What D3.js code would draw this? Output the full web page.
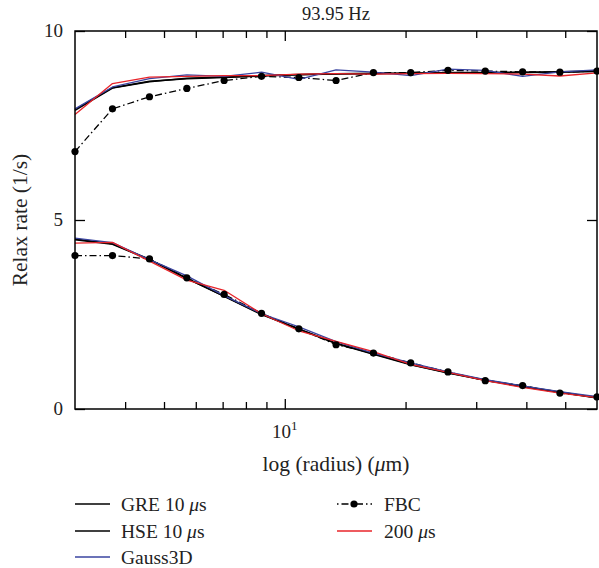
<!DOCTYPE html>
<html>
<head>
<meta charset="utf-8">
<script src="https://cdn.jsdelivr.net/npm/d3@7"></script>
<style>
  html, body { margin: 0; padding: 0; background: #fff; }
  svg, svg text { font-family: "Liberation Serif", "DejaVu Serif", serif; }
</style>
</head>
<body>
<svg id="chart" width="599" height="568"></svg>
<script>
// ---------- data ----------
const radius = [3.0, 3.72, 4.60, 5.70, 7.06, 8.75, 10.84, 13.42, 16.63, 20.60, 25.51, 31.60, 39.15, 48.49, 60.0];

const greUpper   = [7.92, 8.50, 8.67, 8.74, 8.77, 8.81, 8.84, 8.86, 8.87, 8.88, 8.89, 8.89, 8.90, 8.91, 8.93];
const hseUpper   = [7.90, 8.49, 8.66, 8.75, 8.78, 8.82, 8.85, 8.87, 8.88, 8.88, 8.90, 8.90, 8.91, 8.92, 8.94];
const gaussUpper = [7.94, 8.52, 8.74, 8.84, 8.80, 8.91, 8.72, 8.97, 8.91, 8.82, 8.99, 8.96, 8.80, 8.92, 8.97];
const fbcUpper   = [6.81, 7.94, 8.26, 8.48, 8.69, 8.80, 8.77, 8.69, 8.90, 8.90, 8.96, 8.94, 8.92, 8.91, 8.94];
const us200Upper = [7.79, 8.61, 8.78, 8.80, 8.82, 8.82, 8.86, 8.87, 8.86, 8.87, 8.88, 8.87, 8.86, 8.81, 8.89];

const greLower   = [4.50, 4.37, 3.96, 3.46, 2.98, 2.50, 2.12, 1.74, 1.46, 1.18, 0.96, 0.77, 0.60, 0.45, 0.30];
const hseLower   = [4.48, 4.36, 3.95, 3.45, 2.99, 2.51, 2.11, 1.73, 1.45, 1.17, 0.95, 0.76, 0.59, 0.44, 0.29];
const gaussLower = [4.52, 4.40, 3.95, 3.52, 3.00, 2.52, 2.17, 1.78, 1.48, 1.22, 0.98, 0.78, 0.61, 0.46, 0.33];
const fbcLower   = [4.06, 4.06, 3.97, 3.47, 3.03, 2.53, 2.12, 1.70, 1.48, 1.22, 0.98, 0.75, 0.62, 0.42, 0.32];
const us200Lower = [4.39, 4.41, 3.91, 3.41, 3.14, 2.52, 2.07, 1.79, 1.52, 1.18, 0.97, 0.75, 0.57, 0.42, 0.30];

const yTicks = [0, 5, 10];
const xMinorTicks = [4, 5, 6, 7, 8, 9, 20, 30, 40, 50];
const xMajorTicks = [10];

const titleText = "93.95 Hz";
const legendLeft = ["GRE 10 μs", "HSE 10 μs", "Gauss3D"];
const legendRight = ["FBC", "200 μs"];

// ---------- layout ----------
const FONT = "'Liberation Serif', 'DejaVu Serif', serif";
const svg = d3.select("#chart").attr("font-family", FONT);
const L = 75, R = 597, T = 31, B = 409;
const x = d3.scaleLog().domain([3, 60]).range([L, R]);
const y = d3.scaleLinear().domain([0, 10]).range([B, T]);

const BLACK = "#000", BLUE = "#3a44a0", RED = "#e8242a";
const DASH = "7,3,1.5,3";
const TXT = "#222";

// title
svg.append("text").attr("x", (L + R) / 2).attr("y", 20).attr("text-anchor", "middle")
  .attr("font-family", FONT).attr("font-size", 18.5).attr("fill", TXT).text(titleText);

// axes (ticks inward)
const gB = svg.append("g").attr("transform", `translate(0,${B})`);
gB.call(d3.axisTop(x).tickValues(xMinorTicks).tickSize(7).tickFormat(""));
const gB2 = svg.append("g").attr("transform", `translate(0,${B})`);
gB2.call(d3.axisTop(x).tickValues(xMajorTicks).tickSize(10).tickFormat(""));
const gT = svg.append("g").attr("transform", `translate(0,${T})`);
gT.call(d3.axisBottom(x).tickValues(xMinorTicks).tickSize(7).tickFormat(""));
const gT2 = svg.append("g").attr("transform", `translate(0,${T})`);
gT2.call(d3.axisBottom(x).tickValues(xMajorTicks).tickSize(10).tickFormat(""));
const gL = svg.append("g").attr("transform", `translate(${L},0)`);
gL.call(d3.axisRight(y).tickValues(yTicks).tickSize(10).tickFormat(""));
const gR = svg.append("g").attr("transform", `translate(${R},0)`);
gR.call(d3.axisLeft(y).tickValues(yTicks).tickSize(10).tickFormat(""));
svg.selectAll(".domain").remove();
svg.selectAll(".tick line").attr("stroke", "#000").attr("stroke-width", 1.3);

// y tick labels
svg.append("g").selectAll("text").data(yTicks).join("text")
  .attr("x", 63).attr("y", d => y(d) + 6).attr("text-anchor", "end")
  .attr("font-family", FONT).attr("font-size", 19).attr("fill", TXT).text(d => d);

// x tick label 10^1
const xl = svg.append("text").attr("x", x(10)).attr("y", 438).attr("text-anchor", "middle")
  .attr("font-family", FONT).attr("font-size", 19).attr("fill", TXT);
xl.append("tspan").text("10");
xl.append("tspan").attr("dy", -8).attr("font-size", 13).text("1");

// axis labels
const xlab = svg.append("text").attr("x", (L + R) / 2).attr("y", 471).attr("text-anchor", "middle")
  .attr("font-family", FONT).attr("font-size", 21.5).attr("fill", TXT);
xlab.append("tspan").text("log (radius) (");
xlab.append("tspan").attr("font-style", "italic").text("μ");
xlab.append("tspan").text("m)");

svg.append("text").attr("transform", `translate(27,${(T + B) / 2}) rotate(-90)`)
  .attr("text-anchor", "middle").attr("font-family", FONT).attr("font-size", 21.5).attr("fill", TXT)
  .text("Relax rate (1/s)");

// lines
const plot = svg.append("g");
const line = d3.line().x((d, i) => x(radius[i])).y(d => y(d));

function drawLine(vals, color, width, dash) {
  plot.append("path").datum(vals).attr("d", line).attr("fill", "none")
    .attr("stroke", color).attr("stroke-width", width)
    .attr("stroke-dasharray", dash || null).attr("stroke-linejoin", "round");
}
drawLine(greUpper, BLACK, 1.5); drawLine(greLower, BLACK, 1.5);
drawLine(hseUpper, BLACK, 1.5); drawLine(hseLower, BLACK, 1.5);
drawLine(fbcUpper, BLACK, 1.3, DASH); drawLine(fbcLower, BLACK, 1.3, DASH);
drawLine(gaussUpper, BLUE, 1.3); drawLine(gaussLower, BLUE, 1.3);
drawLine(us200Upper, RED, 1.3); drawLine(us200Lower, RED, 1.3);
[fbcUpper, fbcLower].forEach(arr => {
  plot.append("g").selectAll("circle").data(arr).join("circle")
    .attr("cx", (d, i) => x(radius[i])).attr("cy", d => y(d)).attr("r", 3.6).attr("fill", "#000");
});

// frame
svg.append("rect").attr("x", L).attr("y", T).attr("width", R - L).attr("height", B - T)
  .attr("fill", "none").attr("stroke", "#000").attr("stroke-width", 1.5);

// legend
const legRows = [504, 531, 557];
const leg = svg.append("g");
const leftColors = [BLACK, BLACK, BLUE];
function legText(g, xx, yy, label) {
  const t = g.append("text").attr("x", xx).attr("y", yy + 7)
    .attr("font-family", FONT).attr("font-size", 19.5).attr("fill", TXT);
  const idx = label.indexOf("μ");
  if (idx >= 0) {
    t.append("tspan").text(label.slice(0, idx));
    t.append("tspan").attr("font-style", "italic").text("μ");
    t.append("tspan").text(label.slice(idx + 1));
  } else t.text(label);
}
legendLeft.forEach((lab, i) => {
  leg.append("line").attr("x1", 75).attr("x2", 110).attr("y1", legRows[i]).attr("y2", legRows[i])
    .attr("stroke", leftColors[i]).attr("stroke-width", i === 2 ? 1.3 : 1.5);
  legText(leg, 121, legRows[i], lab);
});
// FBC
leg.append("line").attr("x1", 337).attr("x2", 372).attr("y1", legRows[0]).attr("y2", legRows[0])
  .attr("stroke", BLACK).attr("stroke-width", 1.3).attr("stroke-dasharray", "1.5,3,7,3");
leg.append("circle").attr("cx", 354).attr("cy", legRows[0]).attr("r", 3.6).attr("fill", "#000");
legText(leg, 384, legRows[0], legendRight[0]);
leg.append("line").attr("x1", 337).attr("x2", 372).attr("y1", legRows[1]).attr("y2", legRows[1])
  .attr("stroke", RED).attr("stroke-width", 1.3);
legText(leg, 384, legRows[1], legendRight[1]);
</script>
</body>
</html>
